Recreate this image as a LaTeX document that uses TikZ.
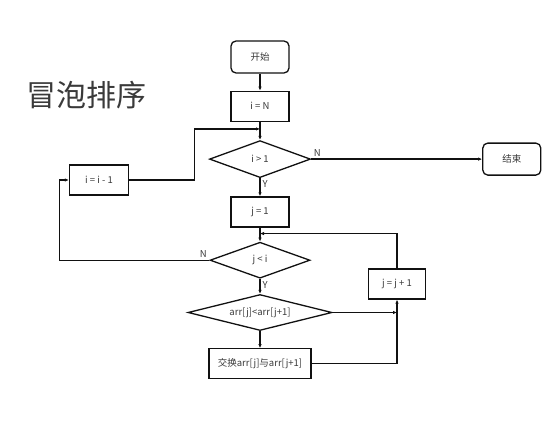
\documentclass[tikz,border=0pt]{standalone}
\usepackage{fontspec}
\setmainfont{Noto Sans CJK SC}
\usepackage{tikz}
\usetikzlibrary{arrows.meta,positioning,calc,shapes.geometric}
\definecolor{LineBlack}{HTML}{111111}
\definecolor{TextGray}{HTML}{3A3A3A}
\tikzset{
  procbox/.style={draw=LineBlack,line width=1.3pt,fill=white,align=center,
              minimum height=30pt,minimum width=58pt,inner sep=2pt,
              font=\fontsize{9.5}{10}\selectfont,text=TextGray},
  termbox/.style={procbox,rounded corners=5pt,minimum height=32pt},
  decide/.style={draw=LineBlack,line width=1.3pt,fill=white,diamond,aspect=4,
              align=center,minimum width=101pt,minimum height=37pt,inner sep=0pt,
              font=\fontsize{9.5}{10}\selectfont,text=TextGray},
  flow/.style={-{Latex[length=4pt,width=3.5pt]},line width=1.3pt,draw=LineBlack},
  note/.style={font=\fontsize{9.5}{10}\selectfont,text=TextGray,inner sep=2pt}
}
\begin{document}
\begin{tikzpicture}[x=1pt,y=1pt]
  \useasboundingbox (0,0) rectangle (559,-420);
  \node[font=\fontsize{30}{32}\selectfont,text=TextGray] (title) at (86,-95) {冒泡排序};

  \node[termbox] (start) at (260,-57) {开始};
  \node[procbox,below=17pt of start] (initI) {i = N};
  \node[decide,below=18pt of initI] (outer) {i > 1};
  \node[termbox,right=171pt of outer] (done) {结束};
  \node[procbox,below=18pt of outer] (initJ) {j = 1};
  \node[decide,minimum width=100pt,minimum height=36pt,below=14pt of initJ] (inner) {j < i};
  \node[decide,minimum width=144pt,minimum height=36pt,below=15pt of inner] (cmp) {arr[j]<arr[j+1]};
  \node[procbox,minimum width=102pt,below=17pt of cmp] (swap) {交换arr[j]与arr[j+1]};
  \node[procbox,minimum width=59pt] (decI) at (99,-180) {i = i - 1};
  \node[procbox,minimum width=57pt] (incJ) at (397,-284) {j = j + 1};

  \coordinate (loopI) at ($(initI.south)+(0,-7)$);
  \coordinate (loopJ) at ($(initJ.south)+(0,-6)$);

  \draw[flow] (start) -- (initI);
  \draw[flow] (initI) -- (outer);
  \draw[flow] (outer.east) -- node[pos=0,above right,note]{N} (done);
  \draw[flow] (outer) -- node[pos=0.3,right,note]{Y} (initJ);
  \draw[flow] (decI.east) -- ++(65,0) |- (loopI);
  \draw[flow] (initJ) -- (inner);
  \draw[flow] (inner.west) -- node[pos=0,above left,note]{N} ++(-150,0) |- (decI.west);
  \draw[flow] (inner) -- node[pos=0.4,right,note]{Y} (cmp);
  \draw[flow] (cmp) -- (swap);
  \draw[flow] (cmp.east) -- (cmp.east -| incJ);
  \draw[flow] (swap.east) -| (incJ.south);
  \draw[flow] (incJ.north) |- (loopJ);
\end{tikzpicture}
\end{document}
